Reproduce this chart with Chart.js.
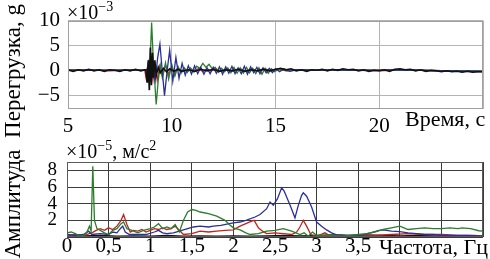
<!DOCTYPE html>
<html><head><meta charset="utf-8">
<script src="https://cdn.jsdelivr.net/npm/chart.js@4"></script>
<style>
html,body{margin:0;padding:0;background:#fff;}
#wrap{position:relative;width:490px;height:259px;overflow:hidden;font-family:'Liberation Serif',serif;color:#000;}
canvas{position:absolute;left:0;top:0;}
.t{position:absolute;white-space:nowrap;}
.rot{position:absolute;text-align:center;white-space:nowrap;transform:rotate(-90deg);}
sup{font-size:0.7em;vertical-align:0;position:relative;top:-0.55em;}
</style></head>
<body><div id="wrap">
<canvas id="c1" width="490" height="259"></canvas>
<canvas id="c2" width="490" height="259"></canvas>
<div class="rot" style="left:-67px;top:59px;width:160px;height:24px;line-height:24px;font-size:23px;">Перегрузка, g</div>
<div class="rot" style="left:-47px;top:192px;width:120px;height:24px;line-height:24px;font-size:23px;">Амплитуда</div>
<div class="t" style="left:67px;top:2px;font-size:20px;line-height:20px;">×10<sup>−3</sup></div>
<div class="t" style="left:66px;top:141px;font-size:20px;line-height:20px;">×10<sup>−5</sup>, м/с<sup>2</sup></div>
<div class="t" style="left:405px;top:108px;font-size:22px;line-height:22px;">Время, с</div>
<div class="t" style="left:379px;top:236px;font-size:22px;line-height:22px;">Частота, Гц</div>
</div>
<script>
// ---- Top panel: acceleration, 10^-3 g, time in s ----
const blackT = [5.0,5.25,5.5,5.75,6.0,6.25,6.5,6.75,7.0,7.25,7.5,7.75,8.0,8.25,8.5,8.75,8.82,8.87,8.92,8.97,9.02,9.07,9.12,9.18,9.25,9.35,9.45,9.6,9.75,9.9,10.1,10.3,10.5,10.8,11.1,11.4,11.7,12.0,12.3,12.6,12.9,13.2,13.5,13.8,14.1,14.4,14.7,15.0,15.25,15.5,15.75,16.0,16.25,16.5,16.75,17.0,17.25,17.5,17.75,18.0,18.25,18.5,18.75,19.0,19.25,19.5,19.75,20.0,20.25,20.5,20.75,21.0,21.25,21.5,21.75,22.0,22.25,22.5,22.75,23.0,23.25,23.5,23.75,24.0,24.25,24.5,24.75,25.0];
const blackA = [0.1,-0.2,0.1,-0.1,0.2,-0.1,0.1,-0.2,0.1,0.0,-0.2,0.1,-0.1,0.2,-0.1,0.1,-2.5,2.0,-4.0,4.6,-3.0,3.5,-1.5,2.0,-1.0,0.6,-0.5,0.4,-0.3,0.3,-0.2,0.2,-0.2,0.1,-0.2,0.2,-0.1,0.2,-0.2,0.1,-0.1,0.2,-0.2,0.1,-0.1,0.2,-0.1,0.2,0.4,0.1,0.3,-0.1,0.1,-0.2,0.1,0.0,0.2,-0.1,0.2,0.0,0.3,0.1,0.2,-0.1,0.1,-0.2,0.0,-0.1,0.1,-0.2,0.2,0.3,0.1,0.2,-0.1,0.1,-0.2,0.0,-0.1,-0.3,-0.1,-0.3,-0.2,-0.4,-0.2,-0.4,-0.3,-0.3];

const redT = [5,6,7,8,8.7,8.76,8.8,8.86,8.92,9.0,9.1,9.2,9.3,9.42,9.55,9.7,9.85,10.0,10.15,10.3,10.45,10.6,10.75,10.9,11.1,11.3,11.5,11.7,11.9,12.1,12.4,12.7,13.0,13.3,13.6,13.9,14.2,14.5,14.8,15.1,15.6,16,17,18,19,20,21,22,23,24,25];
const redA = [0,0.1,-0.1,0.1,0,-1.5,-2.4,0.5,-1.2,1.5,-1.8,1.2,-2.0,0.8,-1.2,1.0,-0.8,0.6,-0.6,0.5,-0.4,0.4,-0.3,0.3,-0.3,0.4,-0.3,0.3,-0.2,0.3,-0.2,0.2,-0.2,0.3,-0.3,0.2,-0.2,0.3,-0.2,0.2,-0.1,0.1,0,0.1,0,-0.1,0.1,0,-0.2,-0.2,-0.3];

const blueT = [5,6,7,8,8.8,8.9,9.0,9.1,9.2,9.32,9.43,9.54,9.65,9.78,9.9,10.05,10.2,10.35,10.5,10.65,10.8,10.95,11.1,11.25,11.4,11.55,11.7,11.85,12.0,12.15,12.3,12.45,12.6,12.75,12.9,13.05,13.2,13.35,13.5,13.65,13.8,13.95,14.1,14.25,14.4,14.55,14.7,14.85,15.0,15.2,15.4,15.7,16,17,18,19,20,21,22,23,24,25];
const blueA = [0,0,0,0,0,1.0,-1.5,0.5,-2.0,2.5,5.3,0,-5.1,0,4.0,-2.2,2.6,-1.6,1.4,-1.0,0.9,-0.8,0.9,-0.7,0.6,-0.8,0.5,-0.7,0.6,-0.6,0.7,-0.8,0.7,-0.6,0.8,-0.7,0.5,-0.7,0.8,-0.8,0.7,-0.5,0.6,-0.7,0.5,-0.5,0.4,-0.5,0.3,-0.3,0.3,-0.2,0.1,0,0.1,0,0,0.1,0,-0.1,-0.2,-0.2];

const greenT = [5,6,7,8,8.8,8.87,8.93,9.03,9.1,9.25,9.35,9.45,9.55,9.7,9.85,10.0,10.15,10.3,10.45,10.6,10.75,10.9,11.05,11.2,11.35,11.5,11.65,11.8,11.95,12.1,12.25,12.4,12.55,12.7,12.85,13.0,13.15,13.3,13.45,13.6,13.75,13.9,14.05,14.2,14.35,14.5,14.65,14.8,14.95,15.2,15.5,16,17,18,19,20,21,22,23,24,25];
const greenA = [0,0,0,0,0,1.5,-1.0,9.6,3.0,-6.9,-2.0,1.0,-1.5,1.5,-1.8,1.2,-1.2,0.8,-0.6,0.5,-0.4,0.5,-0.3,0.8,0.4,1.4,0.6,1.2,0.3,0.6,-0.4,0.4,-0.3,0.5,-0.5,0.6,-0.6,0.5,-0.6,0.6,-0.5,0.4,-0.7,0.5,-0.8,0.4,-0.6,0.3,-0.3,0.3,-0.1,0.1,0,0.1,0,0,0.1,0,-0.1,-0.1,-0.2];

const timeTicks = [5,10,15,20,25];
const accelTicks = [-5,0,5,10];

// ---- Bottom panel: amplitude spectrum, 10^-5 m/s^2, frequency in Hz ----
const gSpecF = [0,0.05,0.1,0.15,0.2,0.24,0.27,0.29,0.31,0.33,0.36,0.4,0.45,0.5,0.55,0.6,0.65,0.68,0.72,0.78,0.85,0.92,1.0,1.05,1.1,1.15,1.2,1.25,1.3,1.35,1.4,1.45,1.5,1.55,1.6,1.7,1.8,1.9,1.95,2.0,2.08,2.15,2.2,2.3,2.4,2.5,2.6,2.7,2.8,2.85,2.9,2.95,3.0,3.1,3.2,3.3,3.4,3.5,3.6,3.7,3.8,3.9,4.0,4.05,4.1,4.2,4.3,4.4,4.5,4.6,4.7,4.75,4.85,4.95,5.0];
const gSpecA = [0.5,0.6,0.4,0.1,0.2,0.6,1.3,0.7,8.5,2.0,1.0,0.8,0.5,0.3,0.8,1.0,1.6,1.8,1.0,0.8,0.5,0.8,1.0,1.2,1.6,1.0,1.2,1.0,1.5,0.6,2.0,3.0,3.3,3.2,3.0,2.8,2.5,2.0,1.5,1.1,0.85,0.5,0.3,0.4,0.7,0.8,1.0,0.7,0.3,0.5,0.1,0.6,0.2,0.2,0.2,0.1,0.2,0.3,0.4,0.6,0.9,1.1,1.3,1.1,0.9,1.0,1.1,1.0,1.0,1.1,1.0,1.1,1.0,0.75,0.7];

const bSpecF = [0,0.1,0.2,0.26,0.3,0.4,0.5,0.55,0.6,0.64,0.67,0.7,0.75,0.85,0.95,1.05,1.1,1.15,1.2,1.28,1.35,1.45,1.52,1.6,1.7,1.76,1.85,1.95,2.0,2.08,2.15,2.26,2.32,2.4,2.44,2.48,2.53,2.58,2.61,2.64,2.69,2.74,2.78,2.82,2.84,2.88,2.94,3.0,3.06,3.12,3.18,3.24,3.35,3.45,3.55,3.65,3.75,3.8,3.9,4.0,4.1,4.2,4.3,4.4,4.5,4.6,4.7,4.8,4.9,5.0];
const bSpecA = [0.3,0.2,0.3,0.7,0.3,0.4,0.3,0.6,0.5,1.0,1.3,0.6,0.3,0.3,0.3,0.6,0.8,0.5,0.4,0.5,0.7,1.0,1.2,1.3,1.2,1.3,1.4,1.6,1.7,1.8,2.0,2.4,2.7,3.4,4.2,3.8,4.6,5.9,5.5,4.8,3.6,2.3,3.8,5.0,5.3,4.9,3.6,1.8,1.3,0.85,0.5,0.25,0.2,0.2,0.25,0.5,0.8,0.85,0.7,0.65,0.5,0.4,0.3,0.3,0.2,0.2,0.2,0.2,0.15,0.1];

const rSpecF = [0,0.1,0.2,0.3,0.35,0.4,0.45,0.5,0.55,0.6,0.65,0.68,0.72,0.76,0.8,0.85,0.9,0.95,1.0,1.05,1.1,1.15,1.2,1.25,1.3,1.35,1.4,1.5,1.6,1.7,1.8,1.9,2.0,2.08,2.15,2.22,2.25,2.3,2.35,2.4,2.5,2.6,2.7,2.76,2.8,2.84,2.88,2.93,3.0,3.05,3.1,3.15,3.3,3.5,3.7,3.9,4.1,4.3,4.5,4.7,4.9,5.0];
const rSpecA = [0.2,0.3,0.2,0.5,0.8,1.0,0.8,1.1,0.9,1.3,2.0,2.7,1.5,0.6,0.8,0.7,0.9,0.6,0.8,1.0,0.9,1.1,0.9,1.0,1.3,0.8,0.3,0.4,0.7,0.6,0.7,0.8,0.85,1.3,1.6,1.9,2.0,1.1,0.7,0.4,0.5,0.4,0.3,0.6,1.2,2.0,1.3,0.3,0.1,0.3,0.5,0.2,0.2,0.1,0.2,0.3,0.4,0.3,0.3,0.2,0.2,0.1];

const kSpecF = [0,0.2,0.4,0.6,0.8,1.0,1.2,1.4,1.6,1.8,2.0,2.2,2.4,2.6,2.8,3.0,3.2,3.4,3.6,3.8,4.0,4.2,4.4,4.6,4.8,5.0];
const kSpecA = [0.1,0.15,0.2,0.1,0.15,0.1,0.2,0.1,0.15,0.1,0.15,0.1,0.15,0.2,0.15,0.2,0.25,0.2,0.25,0.2,0.15,0.2,0.15,0.1,0.1,0.1];

const freqTicks = [0,0.5,1,1.5,2,2.5,3,3.5,4,4.5,5];
const freqLabelMax = 3.5;
const ampTicks = [0,2,4,6,8,9];

const COLORS = {black:'#111111', red:'#c0231e', blue:'#2b2f9a', green:'#2a7d2a'};
const pts = (xs, ys) => xs.map((x, i) => ({x: x, y: ys[i]}));
const SERIF = "'Liberation Serif', 'DejaVu Serif', serif";

function frame(color) {
  return {
    id: 'frame',
    afterDraw(chart) {
      const a = chart.chartArea, ctx = chart.ctx;
      ctx.save();
      ctx.strokeStyle = color; ctx.lineWidth = 1;
      ctx.strokeRect(Math.round(a.left) + 0.5, Math.round(a.top) + 0.5, Math.round(a.right - a.left) - 1, Math.round(a.bottom - a.top) - 1);
      ctx.restore();
    }
  };
}
const ds = (data, color, w) => ({data, borderColor: color, borderWidth: w, pointRadius: 0, tension: 0, fill: false});
const fixTicks = arr => scale => { scale.ticks = arr.map(v => ({value: v})); };
const minus = v => (v < 0 ? '\u2212' + Math.abs(v) : String(v));

new Chart(document.getElementById('c1'), {
  type: 'line',
  data: {datasets: [
    ds(pts(blackT, blackA), COLORS.black, 1.7),
    ds(pts(blueT, blueA), COLORS.blue, 1.3),
    ds(pts(greenT, greenA), COLORS.green, 1.3),
    ds(pts(redT, redA), COLORS.red, 1.3)
  ]},
  options: {
    responsive: false, animation: false, devicePixelRatio: 1,
    layout: {padding: {top: 20, right: 7, left: 0, bottom: 0}},
    plugins: {legend: {display: false}, tooltip: {enabled: false}},
    scales: {
      x: {type: 'linear', min: 5, max: 25,
        afterBuildTicks: fixTicks(timeTicks),
        afterFit: s => { s.height = 150; },
        border: {display: false},
        grid: {color: '#b4b4b4', drawTicks: false},
        ticks: {padding: 5, color: '#000', font: {family: SERIF, size: 21}, maxRotation: 0, autoSkip: false,
          callback: v => (v === 25 ? '' : String(v))}},
      y: {type: 'linear', min: -7.8, max: 10,
        afterBuildTicks: fixTicks(accelTicks),
        afterFit: s => { s.width = 68; },
        border: {display: false},
        grid: {color: '#b4b4b4', drawTicks: false},
        ticks: {padding: 8, color: '#000', font: {family: SERIF, size: 21}, callback: v => minus(v)}}
    }
  },
  plugins: [frame('#a0a0a0')]
});

new Chart(document.getElementById('c2'), {
  type: 'line',
  data: {datasets: [
    ds(pts(gSpecF, gSpecA), COLORS.green, 1.3),
    ds(pts(bSpecF, bSpecA), COLORS.blue, 1.3),
    ds(pts(rSpecF, rSpecA), COLORS.red, 1.3),
    ds(pts(kSpecF, kSpecA), COLORS.black, 1.2)
  ]},
  options: {
    responsive: false, animation: false, devicePixelRatio: 1,
    layout: {padding: {top: 162, right: 7, left: 0, bottom: 0}},
    plugins: {legend: {display: false}, tooltip: {enabled: false}},
    scales: {
      x: {type: 'linear', min: 0, max: 5,
        afterBuildTicks: fixTicks(freqTicks),
        afterFit: s => { s.height = 22; },
        border: {display: false},
        grid: {color: '#3c3c3c', drawTicks: false},
        ticks: {padding: -3, color: '#000', font: {family: SERIF, size: 21}, maxRotation: 0, autoSkip: false,
          callback: v => (v > freqLabelMax ? '' : String(v).replace('.', ','))}},
      y: {type: 'linear', min: 0, max: 9,
        afterBuildTicks: fixTicks(ampTicks),
        afterFit: s => { s.width = 67; },
        border: {display: false},
        grid: {color: '#3c3c3c', drawTicks: false},
        ticks: {padding: 10, color: '#000', font: {family: SERIF, size: 19}, autoSkip: false,
          callback: v => (v === 0 || v === 9 ? '' : String(v))}}
    }
  },
  plugins: [frame('#5a5a5a')]
});
</script>
</body></html>
